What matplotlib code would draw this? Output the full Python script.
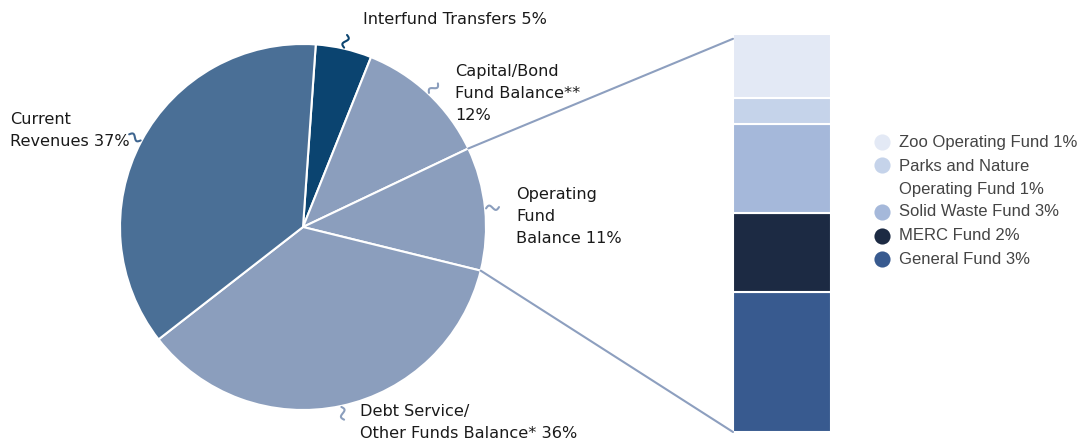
import numpy as np
import matplotlib
matplotlib.use("Agg")
import matplotlib.pyplot as plt
from matplotlib.patches import ConnectionPatch

# Дані кругової діаграми (за годинниковою стрілкою від верху)
pie_labels = ["Interfund Transfers 5%", "Capital/Bond\nFund Balance**\n12%",
              "Operating\nFund\nBalance 11%", "Debt Service/\nOther Funds Balance* 36%",
              "Current\nRevenues 37%"]
pie_values = [5, 12, 11, 36, 37]
pie_colors = ["#0b4470", "#8b9ebd", "#8b9ebd", "#8b9ebd", "#4a6f96"]
squiggle_colors = ["#0b4470", "#8b9ebd", "#8b9ebd", "#8b9ebd", "#3f6690"]

# Дані стовпчика (знизу вгору)
bar_labels = ["General Fund 3%", "MERC Fund 2%", "Solid Waste Fund 3%",
              "Parks and Nature\nOperating Fund 1%", "Zoo Operating Fund 1%"]
bar_values = [3.87, 2.18, 2.46, 0.72, 1.77]
bar_colors = ["#385a8f", "#1c2a43", "#a5b8da", "#c5d3ea", "#e3e9f5"]

W, H = 1082, 441
fig = plt.figure(figsize=(W / 100, H / 100), dpi=100)
ax = fig.add_axes([0, 0, 1, 1])

cx, cy, r = 303, 214, 183
wedges, _ = ax.pie(pie_values, colors=pie_colors, startangle=86, counterclock=False,
                   center=(cx, cy), radius=r, frame=True,
                   wedgeprops=dict(edgecolor="white", linewidth=1.5))
ax.set_xlim(0, W)
ax.set_ylim(0, H)
ax.set_aspect("equal")
ax.axis("off")

# Маленькі хвилясті виноски
for w, col in zip(wedges, squiggle_colors):
    mid = np.deg2rad((w.theta1 + w.theta2) / 2)
    u = np.array([np.cos(mid), np.sin(mid)])
    v = np.array([-u[1], u[0]])
    t = np.linspace(0, 1, 30)
    pts = np.array([cx, cy]) + np.outer(r + 1 + 13 * t, u) + np.outer(2.5 * np.sin(2 * np.pi * t), v)
    ax.plot(pts[:, 0], pts[:, 1], color=col, lw=1.5, solid_capstyle="round")

text_kw = dict(fontsize=11.6, color="#1a1a1a", family="DejaVu Sans", linespacing=1.58)
label_pos = [(363, 421, "center"), (455, 377, "top"), (516, 254, "top"),
             (360, 37, "top"), (10, 329, "top")]
for lab, (x, y, va) in zip(pie_labels, label_pos):
    ax.text(x, y, lab, ha="left", va=va, **text_kw)

# Стовпчик розкладу
bax = fig.add_axes([733 / W, 9 / H, 98 / W, 398 / H])
bottom = 0
for val, col in zip(bar_values, bar_colors):
    bax.bar(0, val, bottom=bottom, width=1, color=col, edgecolor="white", linewidth=1.5)
    bottom += val
bax.set_xlim(-0.5, 0.5)
bax.set_ylim(0, sum(bar_values))
bax.axis("off")

# Лінії зʼєднання
op = wedges[2]
for ang, yb in [(op.theta2, 0.988), (op.theta1, 0.0)]:
    a = np.deg2rad(ang)
    con = ConnectionPatch(xyA=(cx + r * np.cos(a), cy + r * np.sin(a)), coordsA=ax.transData,
                          xyB=(0, yb), coordsB=bax.transAxes, color="#8d9fbf", lw=1.5)
    fig.add_artist(con)

# Легенда (зверху вниз)
row_y = [299, 276, 229, 205, 182]
leg_kw = dict(fontsize=12, family="Liberation Sans", color="#444444", ha="left")
for lab, col, y in zip(bar_labels[::-1], bar_colors[::-1], row_y):
    ax.scatter(882, y, s=135, color=col, zorder=3, linewidths=0)
    if "\n" in lab:
        ax.text(899, y + 6, lab, va="top", linespacing=1.67, **leg_kw)
    else:
        ax.text(899, y, lab, va="center", **leg_kw)

fig.savefig("out.png", dpi=100)
